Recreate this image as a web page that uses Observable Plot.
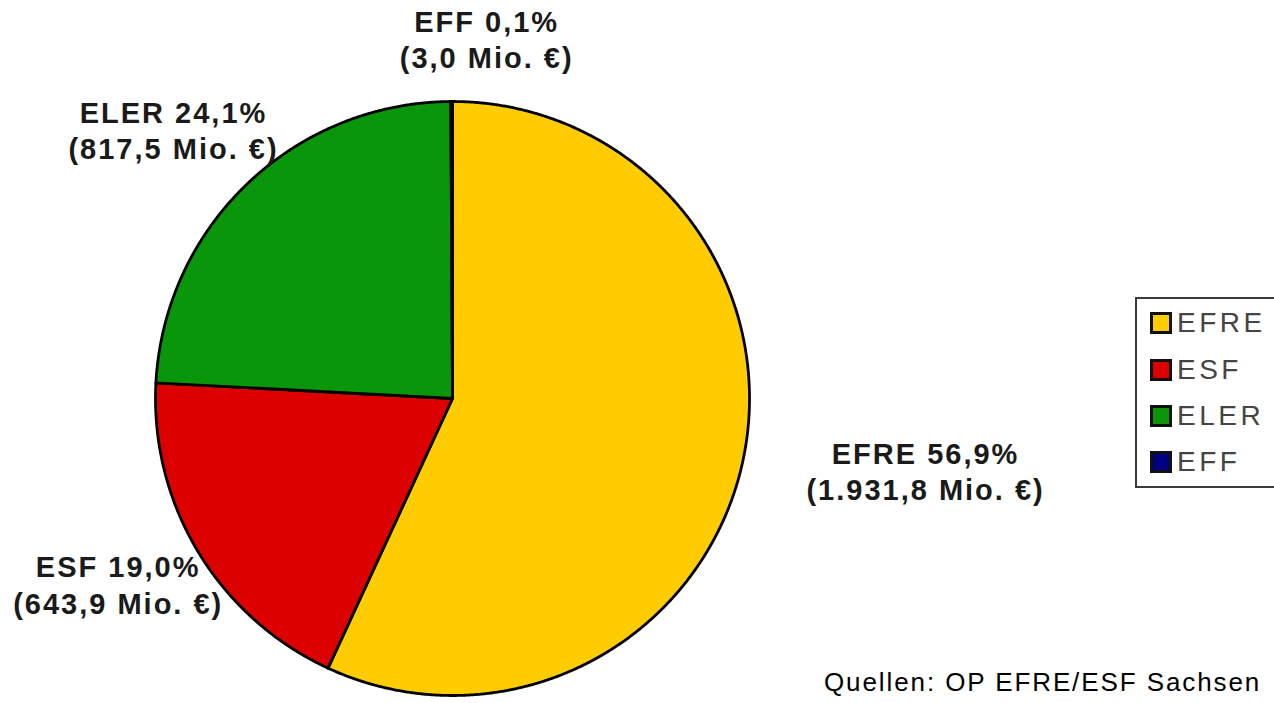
<!DOCTYPE html>
<html><head><meta charset="utf-8">
<script src="https://cdn.jsdelivr.net/npm/d3@7"></script>
<script src="https://cdn.jsdelivr.net/npm/@observablehq/plot@0.6"></script>
<style>
html,body{margin:0;padding:0;background:#fff;}
body{width:1274px;height:703px;overflow:hidden;position:relative;}
#chart{position:absolute;left:0;top:0;}
#chart svg text{letter-spacing:2px;}
#legend{position:absolute;left:1135px;top:297px;width:170px;height:187px;border:2px solid #3a3a3a;background:#fff;box-sizing:content-box;}
.row{position:absolute;left:13px;height:22px;display:flex;align-items:center;}
.sw{width:16px;height:16px;border:3px solid #111;}
.lt{margin-left:5px;font-family:"Liberation Sans",Arial,sans-serif;font-size:28px;letter-spacing:3.5px;color:#444;line-height:22px;}
#caption{position:absolute;left:824px;top:669px;font-family:"Liberation Sans",Arial,sans-serif;font-size:26px;line-height:26px;letter-spacing:1.9px;color:#000;white-space:nowrap;}
</style></head>
<body>
<div id="chart"></div>
<div id="legend"></div>
<div id="caption">Quellen: OP EFRE/ESF Sachsen</div>
<script>
// Data
const funds = ["EFRE", "ESF", "ELER", "EFF"];
const amounts = [1931.8, 643.9, 817.5, 3.0];          // Mio. €
const shareLabels = ["56,9", "19,0", "24,1", "0,1"];   // %
const amountLabels = ["1.931,8", "643,9", "817,5", "3,0"];
const colors = ["#FFCC00", "#DC0000", "#0A960A", "#000080"];

const rows = funds.map((name, i) => ({name, amount: amounts[i], share: shareLabels[i], amountLabel: amountLabels[i]}));

// Layout
const cx = 452, cy = 398, r = 297;
const offsets = {EFRE: [183, 8], ESF: [-80, 32], ELER: [-74, -54], EFF: [35, -63]};

const slices = d3.pie().sort(null).value(d => d.amount).startAngle(0).endAngle(2 * Math.PI)(rows);

const pts = [];
for (const s of slices) {
  const name = s.data.name;
  pts.push({name, x: 0, y: 0});
  const n = Math.max(2, Math.ceil((s.endAngle - s.startAngle) / (Math.PI / 720)));
  for (let i = 0; i <= n; i++) {
    const t = s.startAngle + (s.endAngle - s.startAngle) * i / n;
    pts.push({name, x: Math.sin(t), y: Math.cos(t)});
  }
  pts.push({name, x: 0, y: 0});
}

const mids = slices.map(s => {
  const t = (s.startAngle + s.endAngle) / 2;
  return {name: s.data.name, x: Math.sin(t), y: Math.cos(t),
    label: `${s.data.name} ${s.data.share}%\n(${s.data.amountLabel} Mio. €)`};
});

const chart = Plot.plot({
  width: 1274,
  height: 703,
  margin: 0,
  x: {domain: [-1, 1], range: [cx - r, cx + r], axis: null},
  y: {domain: [-1, 1], range: [cy + r, cy - r], axis: null},
  color: {domain: funds, range: colors},
  style: {background: "#fff"},
  marks: [
    Plot.line(pts, {x: "x", y: "y", z: "name", fill: "name", stroke: "#000", strokeWidth: 2.8, strokeLinejoin: "round"}),
    ...funds.map(f => Plot.text(mids.filter(d => d.name === f), {
      x: "x", y: "y", text: "label", dx: offsets[f][0], dy: offsets[f][1],
      fontSize: 29, fontWeight: "bold", fontFamily: "Liberation Sans, Arial, sans-serif",
      fill: "#1a1a1a", textAnchor: "middle", lineAnchor: "middle", lineHeight: 1.25
    }))
  ]
});
document.getElementById("chart").appendChild(chart);

// Legend
const legend = document.getElementById("legend");
const rowTops = [13, 60, 106, 152];
funds.forEach((f, i) => {
  const row = document.createElement("div");
  row.className = "row";
  row.style.top = rowTops[i] + "px";
  const sw = document.createElement("div");
  sw.className = "sw";
  sw.style.background = colors[i];
  const lt = document.createElement("span");
  lt.className = "lt";
  lt.textContent = f;
  row.appendChild(sw); row.appendChild(lt);
  legend.appendChild(row);
});
</script>
</body></html>
